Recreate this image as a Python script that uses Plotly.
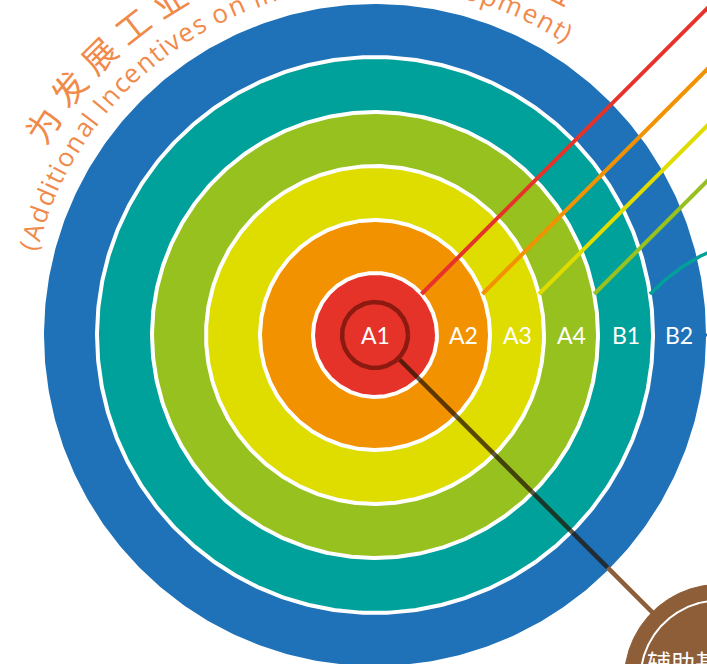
import numpy as np
import plotly.graph_objects as go

# ---------------- data ----------------
tiers = ["A1", "A2", "A3", "A4", "B1", "B2"]
tier_outer = [62, 115, 169, 223, 278, 329]
tier_colors = ["#E6332A", "#F39200", "#DFDC00", "#97C11F", "#00A19A", "#1F71B8"]
title_cn = "为发展工业区所提供的额外利益"
title_en = "(Additional Incentives on Industrial Development)"
sub_label = "辅助基础设施"

# ---------------- layout constants ----------------
W, H = 707, 664
XR = [-375, 332]
YR = [-329, 335]
TXT = "#F08A4B"
BROWN = "#8E5E38"
DARK = "#8C1A10"

def to_paper(x, y):
    return (x - XR[0]) / (XR[1] - XR[0]), (y - YR[0]) / (YR[1] - YR[0])

fig = go.Figure()
t = np.linspace(0, 2 * np.pi, 721)

# rings (outer to inner)
for i in reversed(range(len(tiers))):
    r = tier_outer[i]
    fig.add_trace(go.Scatter(
        x=r * np.cos(t), y=r * np.sin(t), mode="lines", fill="toself",
        fillcolor=tier_colors[i],
        line=dict(color="white" if i < len(tiers) - 1 else tier_colors[i], width=4),
        hoverinfo="skip"))

# connectors for A1..A4 (straight, 45 deg)
y0 = 41
for i in range(4):
    r = tier_outer[i]
    xs = np.sqrt(r ** 2 - y0 ** 2)
    L = 600
    fig.add_trace(go.Scatter(x=[xs, xs + L], y=[y0, y0 + L], mode="lines",
                             line=dict(color=tier_colors[i], width=4), hoverinfo="skip"))
# B1 connector (curved)
r = tier_outer[4]
xs = np.sqrt(r ** 2 - y0 ** 2)
P0 = np.array([xs, y0]); P1 = P0 + np.array([40, 40]); P2 = P0 + np.array([85, 51])
s = np.linspace(0, 1, 60)[:, None]
B = (1 - s) ** 2 * P0 + 2 * (1 - s) * s * P1 + s ** 2 * P2
fig.add_trace(go.Scatter(x=B[:, 0], y=B[:, 1], mode="lines",
                         line=dict(color=tier_colors[4], width=3.5), hoverinfo="skip"))
# B2 connector
fig.add_trace(go.Scatter(x=[tier_outer[5] - 2, tier_outer[5] + 40], y=[0, 0], mode="lines",
                         line=dict(color=tier_colors[5], width=3), hoverinfo="skip"))

# magnifier handle to the brown circle
c = np.cos(np.radians(-45)); sn = np.sin(np.radians(-45))
r_in, r_edge, d_circ, R_circ = 35, tier_outer[-1], 487, 95
fig.add_trace(go.Scatter(x=[r_in * c, r_edge * c], y=[r_in * sn, r_edge * sn], mode="lines",
                         line=dict(color="rgba(35,18,0,0.72)", width=4.5), hoverinfo="skip"))
fig.add_trace(go.Scatter(x=[r_edge * c, d_circ * c], y=[r_edge * sn, d_circ * sn], mode="lines",
                         line=dict(color=BROWN, width=4.5), hoverinfo="skip"))

# magnifier ring
rr = 33
fig.add_trace(go.Scatter(x=rr * np.cos(t), y=rr * np.sin(t), mode="lines",
                         line=dict(color=DARK, width=4.5), hoverinfo="skip"))

# brown circle
cx, cy = d_circ * c, d_circ * sn
fig.add_trace(go.Scatter(x=cx + R_circ * np.cos(t), y=cy + R_circ * np.sin(t), mode="lines",
                         fill="toself", fillcolor=BROWN, line=dict(color=BROWN, width=1),
                         hoverinfo="skip"))
fig.add_trace(go.Scatter(x=cx + 79 * np.cos(t), y=cy + 79 * np.sin(t), mode="lines",
                         line=dict(color="white", width=2), hoverinfo="skip"))

annotations = []
# tier labels
for i, name in enumerate(tiers):
    x = 0 if i == 0 else (tier_outer[i - 1] + tier_outer[i]) / 2
    px, py = to_paper(x, 0)
    annotations.append(dict(x=px, y=py, xref="paper", yref="paper", text=name, showarrow=False,
                            xanchor="center", yanchor="middle",
                            font=dict(family="Lato, sans-serif", size=23, color="white")))

# curved Chinese title
n = len(title_cn)
angs = np.linspace(147.7, 62.4, n)
for ch, a in zip(title_cn, angs):
    x = 394 * np.cos(np.radians(a)); y = 394 * np.sin(np.radians(a))
    px, py = to_paper(x, y)
    annotations.append(dict(x=px, y=py, xref="paper", yref="paper", text=ch, showarrow=False,
                            xanchor="center", yanchor="middle", textangle=90 - a,
                            font=dict(family="Noto Sans CJK SC", size=34, color=TXT)))

# curved English subtitle
wtab = {' ': 0.27, '(': 0.3, ')': 0.3, 'i': 0.25, 'l': 0.25, 'I': 0.29, 't': 0.35, 'f': 0.33,
        'r': 0.39, 's': 0.47, 'c': 0.49, 'v': 0.52, 'e': 0.56, 'o': 0.6, 'n': 0.61, 'd': 0.61,
        'a': 0.56, 'p': 0.61, 'm': 0.92, 'u': 0.61, 'A': 0.65, 'D': 0.72}
wd = np.array([wtab.get(ch, 0.57) for ch in title_en])
centers = np.cumsum(wd) - wd / 2
angs = 165.5 + (57.5 - 165.5) * (centers - centers[0]) / (centers[-1] - centers[0])
for ch, a in zip(title_en, angs):
    if ch == ' ':
        continue
    x = 358 * np.cos(np.radians(a)); y = 358 * np.sin(np.radians(a))
    px, py = to_paper(x, y)
    annotations.append(dict(x=px, y=py, xref="paper", yref="paper", text=ch, showarrow=False,
                            xanchor="center", yanchor="middle", textangle=90 - a,
                            font=dict(family="Open Sans, sans-serif", size=26, color=TXT)))

# label inside brown circle
px, py = to_paper(cx, cy + 18)
annotations.append(dict(x=px, y=py, xref="paper", yref="paper", text=sub_label, showarrow=False,
                        xanchor="center", yanchor="middle",
                        font=dict(family="Noto Sans CJK SC", size=24, color="white")))

fig.update_layout(
    width=W, height=H, margin=dict(l=0, r=0, t=0, b=0),
    paper_bgcolor="white", plot_bgcolor="white", showlegend=False,
    xaxis=dict(range=XR, visible=False, fixedrange=True),
    yaxis=dict(range=YR, visible=False, fixedrange=True),
    annotations=annotations,
)
fig.write_html("out.html", config={"displayModeBar": False},
               post_script="document.body.style.margin='0px';")
